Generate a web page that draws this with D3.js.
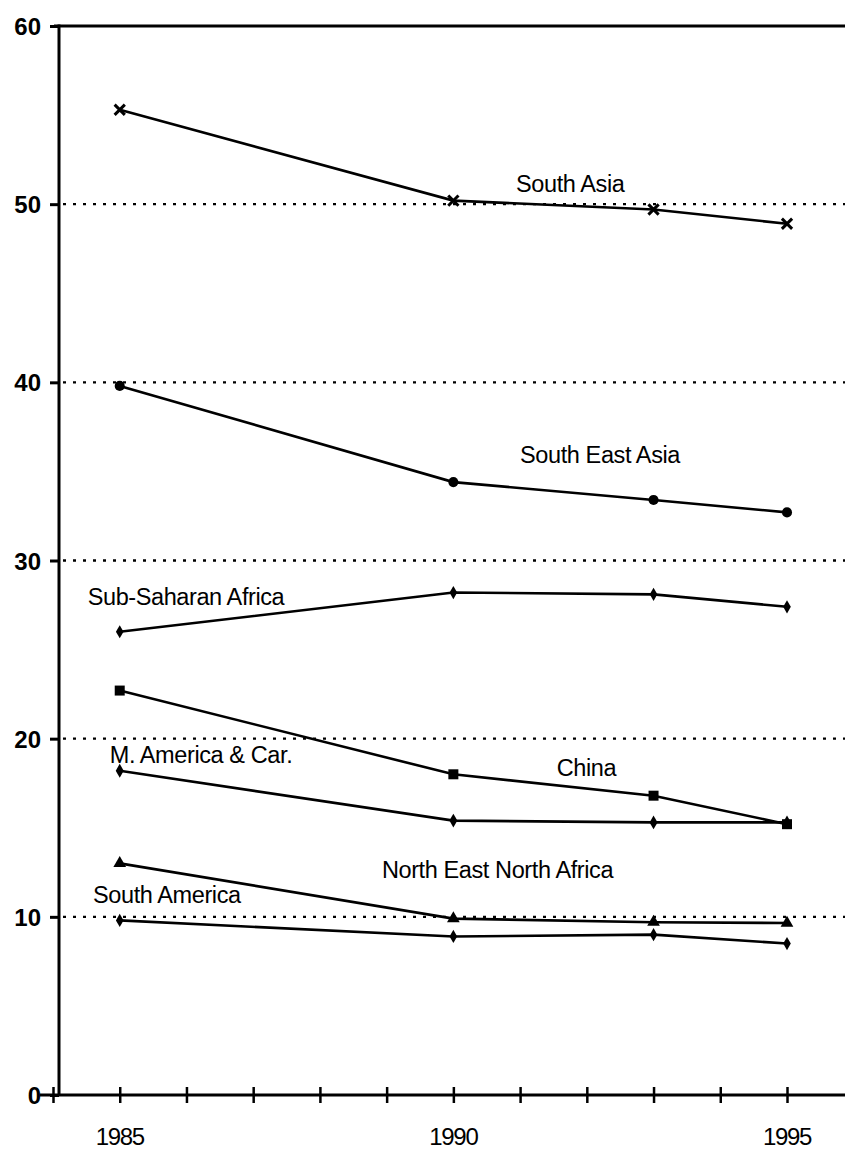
<!DOCTYPE html>
<html>
<head>
<meta charset="utf-8">
<script src="https://cdn.jsdelivr.net/npm/d3@7"></script>
<style>
  html, body { margin: 0; padding: 0; background: #fff; }
  svg { display: block; }
  text { font-family: "Liberation Sans", Arial, sans-serif; fill: #000; }
</style>
</head>
<body>
<script>
// ---- data ----
const years = [1985, 1990, 1993, 1995];
const southAsia        = [55.3, 50.2, 49.7, 48.9];
const southEastAsia    = [39.8, 34.4, 33.4, 32.7];
const subSaharanAfrica = [26.0, 28.2, 28.1, 27.4];
const china            = [22.7, 18.0, 16.8, 15.2];
const mAmericaCar      = [18.2, 15.4, 15.3, 15.3];
const neNorthAfrica    = [13.0, 9.9, 9.7, 9.65];
const southAmerica     = [9.8, 8.9, 9.0, 8.5];
const yTicks = [0, 10, 20, 30, 40, 50, 60];
const xTicks = [1984, 1985, 1986, 1987, 1988, 1989, 1990, 1991, 1992, 1993, 1994, 1995];
const xLabels = [1985, 1990, 1995];
const gridValues = [10, 20, 30, 40, 50];
const seriesNames = ["South Asia", "South East Asia", "Sub-Saharan Africa", "China",
                     "M. America & Car.", "North East North Africa", "South America"];
const seriesValues = [southAsia, southEastAsia, subSaharanAfrica, china,
                      mAmericaCar, neNorthAfrica, southAmerica];
// label anchors in data units [year, value]
const labelYears  = [1990.94, 1991.0, 1984.52, 1991.55, 1984.85, 1988.93, 1984.6];
const labelValues = [50.68, 35.47, 27.5, 17.9, 18.63, 12.18, 10.78];

// ---- style ----
const markerTypes = ["times", "circle", "dot", "square", "diamond", "triangle", "diamondSmall"];

const W = 845, H = 1151;
const svg = d3.select("body").append("svg").attr("width", W).attr("height", H);

const x = d3.scaleLinear().domain([1984, 1995]).range([53, 787]);
const y = d3.scaleLinear().domain([0, 60]).range([1095, 26]);
const axisX = 59;

// gridlines
svg.append("g").selectAll("line").data(gridValues).join("line")
  .attr("x1", axisX + 4).attr("x2", W)
  .attr("y1", d => y(d)).attr("y2", d => y(d))
  .attr("stroke", "#000").attr("stroke-width", 2.4)
  .attr("stroke-dasharray", "3,7");

// y axis
const gy = svg.append("g").attr("transform", `translate(${axisX},0)`)
  .call(d3.axisLeft(y).tickValues(yTicks).tickSize(9).tickPadding(9).tickFormat(d3.format("d")));
gy.select(".domain").remove();
gy.selectAll(".tick line").attr("stroke", "#000").attr("stroke-width", 3);
gy.selectAll(".tick text").attr("font-size", 24).attr("font-family", "Liberation Sans, Arial, sans-serif")
  .attr("font-weight", "bold").attr("dy", "0.36em").attr("x", -18);
gy.append("line").attr("x1", 0).attr("x2", 0).attr("y1", y(60) - 1.5).attr("y2", y(0))
  .attr("stroke", "#000").attr("stroke-width", 3);

// top line
svg.append("line").attr("x1", 54).attr("x2", W).attr("y1", y(60)).attr("y2", y(60))
  .attr("stroke", "#000").attr("stroke-width", 3);

// x axis
const gx = svg.append("g").attr("transform", `translate(0,${y(0)})`)
  .call(d3.axisBottom(x).tickValues(xTicks).tickSize(8).tickFormat(""));
gx.select(".domain").remove();
gx.selectAll(".tick line").attr("y1", -8).attr("stroke", "#000").attr("stroke-width", 2.5);
gx.append("line").attr("x1", 40).attr("x2", W).attr("y1", 0).attr("y2", 0)
  .attr("stroke", "#000").attr("stroke-width", 3);
gx.selectAll(".xlab").data(xLabels).join("text").attr("class", "xlab")
  .attr("x", d => x(d)).attr("y", 50)
  .attr("text-anchor", "middle").attr("font-size", 24)
  .attr("letter-spacing", -1.3)
  .attr("font-family", "Liberation Sans, Arial, sans-serif")
  .text(d => d);

// lines
const line = d3.line().x((d, i) => x(years[i])).y(d => y(d));
const gs = svg.append("g");
seriesValues.forEach((vals, si) => {
  gs.append("path").datum(vals).attr("d", line)
    .attr("fill", "none").attr("stroke", "#000").attr("stroke-width", 2.6);
  const type = markerTypes[si];
  const g = gs.append("g");
  const pts = g.selectAll("path.m").data(vals).join("path").attr("class", "m")
    .attr("transform", (d, i) => `translate(${x(years[i])},${y(d)})`);
  if (type === "times") {
    pts.attr("d", d3.symbol(d3.symbolTimes, 70)).attr("fill", "none").attr("stroke", "#000").attr("stroke-width", 3);
  } else if (type === "circle") {
    pts.attr("d", d3.symbol(d3.symbolCircle, 80)).attr("fill", "#000");
  } else if (type === "dot") {
    pts.attr("d", d3.symbol(d3.symbolDiamond, 50)).attr("fill", "#000");
  } else if (type === "square") {
    pts.attr("d", d3.symbol(d3.symbolSquare, 100)).attr("fill", "#000");
  } else if (type === "diamond") {
    pts.attr("d", d3.symbol(d3.symbolDiamond, 55)).attr("fill", "#000");
  } else if (type === "triangle") {
    pts.attr("d", d3.symbol(d3.symbolTriangle, 70)).attr("fill", "#000");
  } else {
    pts.attr("d", d3.symbol(d3.symbolDiamond, 50)).attr("fill", "#000");
  }
});

// series labels
svg.append("g").selectAll("text").data(seriesNames).join("text")
  .attr("x", (d, i) => x(labelYears[i]))
  .attr("y", (d, i) => y(labelValues[i]))
  .attr("font-size", 23.5)
  .attr("letter-spacing", -0.4)
  .text(d => d);
</script>
</body>
</html>
